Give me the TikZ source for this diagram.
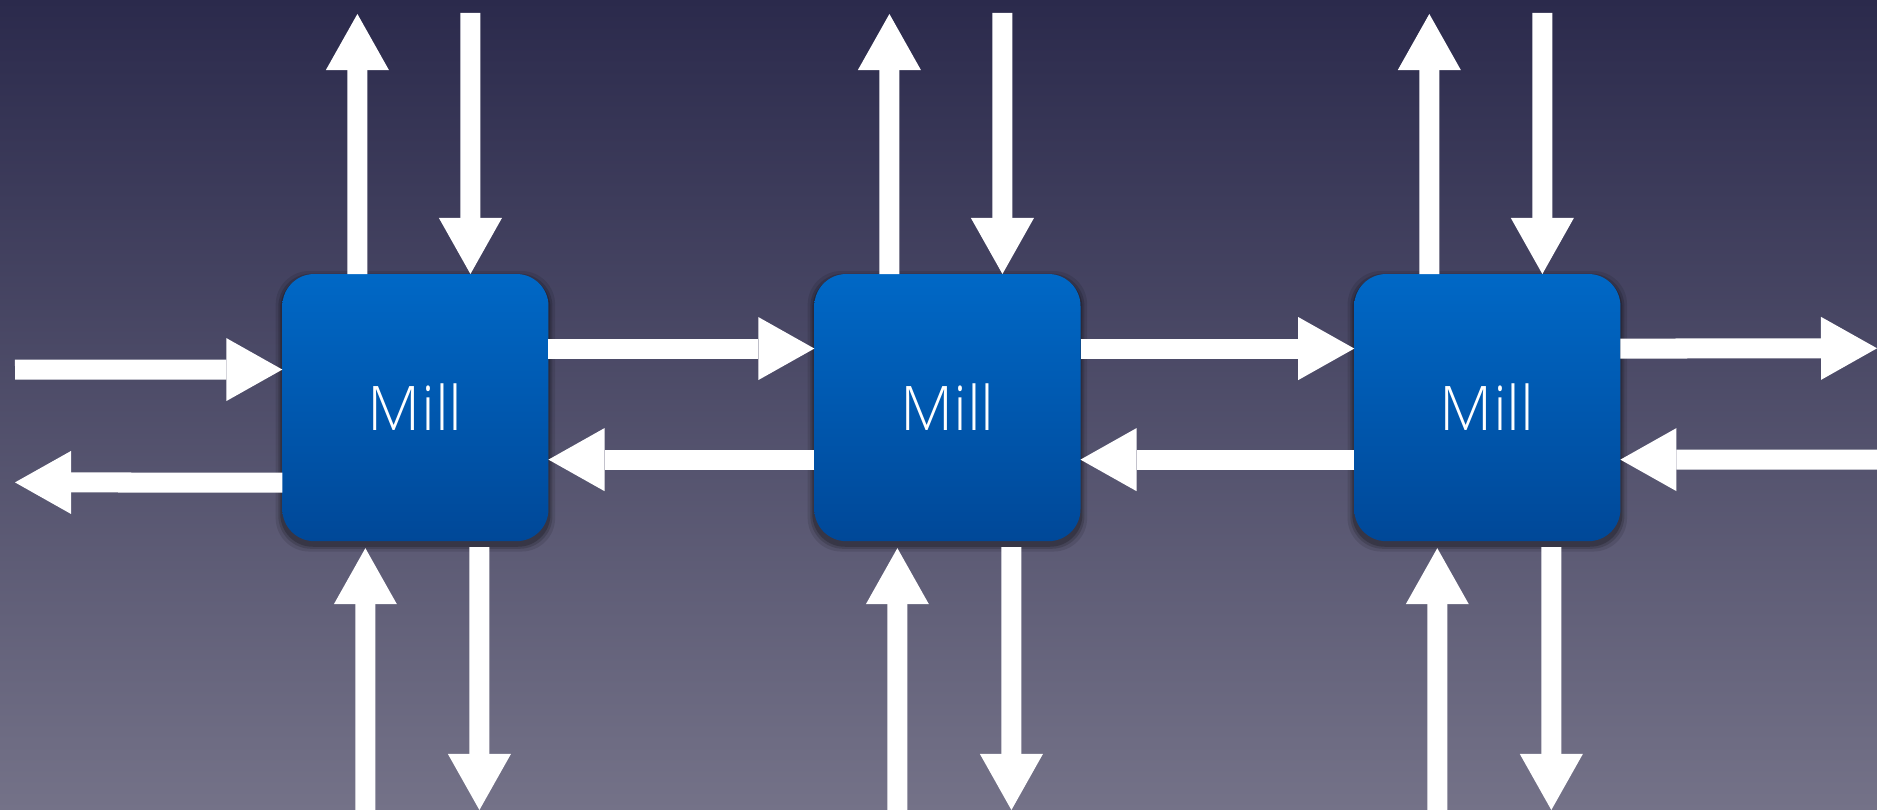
\documentclass[tikz,border=0pt]{standalone}
\usepackage{fontspec}
\usepackage{xcolor}
\usepackage{tikz}
\usetikzlibrary{arrows.meta,shadows}
\newfontfamily\millfont{Open Sans Light}
\definecolor{bgtop}{RGB}{43,42,76}
\definecolor{bgbot}{RGB}{116,114,136}
\definecolor{milltop}{RGB}{0,104,198}
\definecolor{millbot}{RGB}{0,72,152}

\begin{document}
\begin{tikzpicture}[x=0.01cm, y=-0.01cm,
    mill/.style={rectangle, rounded corners=0.32cm, minimum width=2.66cm, minimum height=2.67cm,
        outer sep=0pt, top color=milltop, bottom color=millbot, text=white,
        font=\millfont\fontsize{17.5}{21}\selectfont,
        drop shadow={shadow xshift=0pt, shadow yshift=-1pt, shadow scale=1.05, fill=black, opacity=0.1},
        drop shadow={shadow xshift=0pt, shadow yshift=-1pt, shadow scale=1.03, fill=black, opacity=0.15},
        drop shadow={shadow xshift=0pt, shadow yshift=-1pt, shadow scale=1.015, fill=black, opacity=0.2}},
    flow/.style={draw=white, line width=0.2cm,
        -{Triangle[width=0.63cm, length=0.56cm, line width=0pt]}}]
    \useasboundingbox (0,0) rectangle (1877,810);
    \shade[top color=bgtop, bottom color=bgbot] (0,0) rectangle (1877,810);
    \foreach \i/\cx in {1/415.4, 2/947.4, 3/1487.3} {
        \node[mill] (m\i) at (\cx,407.6) {Mill};
        \coordinate (tu\i) at (\cx-58,14);
        \coordinate (td\i) at (\cx+55,13);
        \coordinate (bu\i) at (\cx-50,812);
        \coordinate (bd\i) at (\cx+64,810);
        \draw[flow] ([xshift=-0.58cm]m\i.north) -- (tu\i);
        \draw[flow] (td\i) -- ([xshift=0.55cm]m\i.north);
        \draw[flow] (bu\i) -- ([xshift=-0.5cm, yshift=-0.07cm]m\i.south);
        \draw[flow] ([xshift=0.64cm, yshift=-0.06cm]m\i.south) -- (bd\i);
    }
    \coordinate (lin) at (15,369.6);
    \coordinate (lout) at (15,482.4);
    \coordinate (rout) at (1877,348.3);
    \coordinate (rin) at (1880,459.6);
    \draw[flow] (lin) -- ([yshift=0.38cm]m1.west);
    \draw[flow] ([yshift=-0.75cm]m1.west) -- (lout);
    \draw[flow] ([yshift=0.59cm]m1.east) -- ([yshift=0.59cm]m2.west);
    \draw[flow] ([yshift=-0.52cm]m2.west) -- ([yshift=-0.52cm]m1.east);
    \draw[flow] ([yshift=0.59cm]m2.east) -- ([yshift=0.59cm]m3.west);
    \draw[flow] ([yshift=-0.52cm]m3.west) -- ([yshift=-0.52cm]m2.east);
    \draw[flow] ([yshift=0.59cm]m3.east) -- (rout);
    \draw[flow] (rin) -- ([yshift=-0.52cm]m3.east);
\end{tikzpicture}
\end{document}
